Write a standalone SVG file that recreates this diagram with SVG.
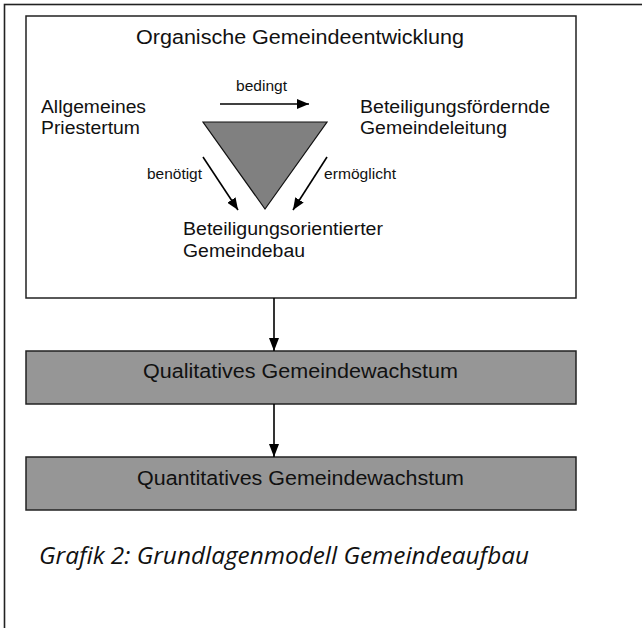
<svg xmlns="http://www.w3.org/2000/svg" width="642" height="628" viewBox="0 0 642 628">
<style>
.t{font-family:"Liberation Sans",Arial,Helvetica,sans-serif;fill:#111}
.ti{font-size:20.5px}
.b{font-size:18.8px}
.bx{font-size:19.6px}
.s{font-size:14.8px}
.cap{font-family:"Open Sans","Noto Sans","Liberation Sans",sans-serif;font-style:italic;font-size:23px;fill:#111}
.con{stroke:#000;stroke-width:1.6;fill:none}
.box{fill:#969696;stroke:#222;stroke-width:1.5}
</style>
<defs>
<marker id="ah" viewBox="0 0 12 10" refX="12" refY="5" markerWidth="12" markerHeight="10" orient="auto" markerUnits="userSpaceOnUse">
<path d="M0,0 L12,5 L0,10 z" fill="#000"/>
</marker>
<marker id="ah2" viewBox="0 0 13 10" refX="13" refY="5" markerWidth="13" markerHeight="10" orient="auto" markerUnits="userSpaceOnUse">
<path d="M0,0 L13,5 L0,10 z" fill="#000"/>
</marker>
</defs>
<rect x="4.5" y="4.5" width="680" height="680" fill="none" stroke="#222" stroke-width="1.6"/>
<g id="organisch">
<rect x="26" y="16" width="550" height="282" fill="#fff" stroke="#222" stroke-width="1.5"/>
<text class="t ti" x="136" y="44" textLength="328" lengthAdjust="spacingAndGlyphs">Organische Gemeindeentwicklung</text>
</g>
<g id="priestertum">
<text class="t b" x="41" y="113" textLength="105" lengthAdjust="spacingAndGlyphs">Allgemeines</text>
<text class="t b" x="41" y="134" textLength="99" lengthAdjust="spacingAndGlyphs">Priestertum</text>
</g>
<g id="leitung">
<text class="t b" x="360" y="113" textLength="190" lengthAdjust="spacingAndGlyphs">Beteiligungsfördernde</text>
<text class="t b" x="360" y="134" textLength="147" lengthAdjust="spacingAndGlyphs">Gemeindeleitung</text>
</g>
<g id="gemeindebau">
<text class="t b" x="183" y="235" textLength="200" lengthAdjust="spacingAndGlyphs">Beteiligungsorientierter</text>
<text class="t b" x="183" y="257" textLength="122" lengthAdjust="spacingAndGlyphs">Gemeindebau</text>
</g>
<g id="dreieck">
<polygon points="203,122 327,122 265,209" fill="#808080" stroke="#111" stroke-width="1.2"/>
</g>
<g id="qualitativ">
<rect class="box" x="26" y="351" width="550" height="53"/>
<text class="t bx" x="143" y="378" textLength="315" lengthAdjust="spacingAndGlyphs">Qualitatives Gemeindewachstum</text>
</g>
<g id="quantitativ">
<rect class="box" x="26" y="457" width="550" height="53"/>
<text class="t bx" x="137" y="485" textLength="327" lengthAdjust="spacingAndGlyphs">Quantitatives Gemeindewachstum</text>
</g>
<g id="connectors">
<line class="con" x1="220" y1="104" x2="309" y2="104" marker-end="url(#ah)"/>
<text class="t s" x="236" y="91" textLength="51" lengthAdjust="spacingAndGlyphs">bedingt</text>
<line class="con" x1="203" y1="157" x2="238" y2="210" marker-end="url(#ah)"/>
<text class="t s" x="147" y="179" textLength="55" lengthAdjust="spacingAndGlyphs">benötigt</text>
<line class="con" x1="327" y1="157" x2="293" y2="210" marker-end="url(#ah)"/>
<text class="t s" x="324" y="179" textLength="72" lengthAdjust="spacingAndGlyphs">ermöglicht</text>
<line class="con" x1="274" y1="298" x2="274" y2="351" marker-end="url(#ah2)"/>
<line class="con" x1="274" y1="404" x2="274" y2="457" marker-end="url(#ah2)"/>
</g>
<text class="cap" x="39" y="564" textLength="490" lengthAdjust="spacingAndGlyphs">Grafik 2: Grundlagenmodell Gemeindeaufbau</text>
</svg>
